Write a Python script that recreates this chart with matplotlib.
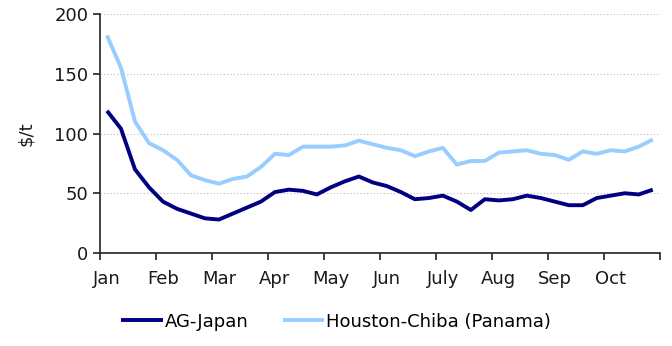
import matplotlib.pyplot as plt
import numpy as np

plt.rcParams['font.family'] = ['DejaVu Sans']

months = ['Jan', 'Feb', 'Mar', 'Apr', 'May', 'Jun', 'July', 'Aug', 'Sep', 'Oct']

# weekly freight rates, $/t
ag_japan = [119, 104, 70, 55, 43, 37, 33, 29, 28, 33, 38, 43, 51, 53, 52, 49,
            55, 60, 64, 59, 56, 51, 45, 46, 48, 43, 36, 45, 44, 45, 48, 46,
            43, 40, 40, 46, 48, 50, 49, 53]
houston_chiba = [182, 155, 110, 92, 86, 78, 65, 61, 58, 62, 64, 72, 83, 82, 89, 89,
                 89, 90, 94, 91, 88, 86, 81, 85, 88, 74, 77, 77, 84, 85, 86, 83,
                 82, 78, 85, 83, 86, 85, 89, 95]

weeks = np.arange(len(ag_japan))

fig = plt.figure(figsize=(6.72, 3.46), dpi=100)
ax = fig.add_axes([0.1488, 0.2688, 0.833, 0.6907])

ax.plot(weeks, ag_japan, color='#000080', lw=2.8, label='AG-Japan', solid_capstyle='butt')
ax.plot(weeks, houston_chiba, color='#99ccff', lw=2.8, label='Houston-Chiba (Panama)',
        solid_capstyle='butt')

ax.set_xlim(-0.5, 39.5)
ax.set_ylim(0, 200)
ax.set_yticks([0, 50, 100, 150, 200])
ax.set_xticks(np.arange(0, 40, 4))
ax.set_xticklabels(months)
# tick marks sit at month boundaries, labels in between
ax.set_xticks(np.arange(-0.5, 40, 4), minor=True)
ax.tick_params(axis='x', which='major', length=0, pad=12, labelsize=13, colors='#1a1a1a')
ax.tick_params(axis='x', which='minor', length=5, width=1.2, direction='out', color='#222222')
ax.tick_params(axis='y', length=5, width=1.2, labelsize=13, colors='#1a1a1a', color='#222222')

ax.grid(axis='y', linestyle=(0, (1, 2)), color='#bbbbbb', lw=0.8)
ax.set_axisbelow(True)
for s in ['top', 'right']:
    ax.spines[s].set_visible(False)
for s in ['left', 'bottom']:
    ax.spines[s].set_color('#222222')
    ax.spines[s].set_linewidth(1.2)

ax.set_ylabel('$/t', fontsize=13, color='#1a1a1a', labelpad=14)

fig.legend(loc='center', bbox_to_anchor=(0.5, 0.07), ncol=2, frameon=False,
           fontsize=13, handlelength=2.3, handletextpad=0.1, columnspacing=1.9)

fig.savefig('out.png', dpi=100)
